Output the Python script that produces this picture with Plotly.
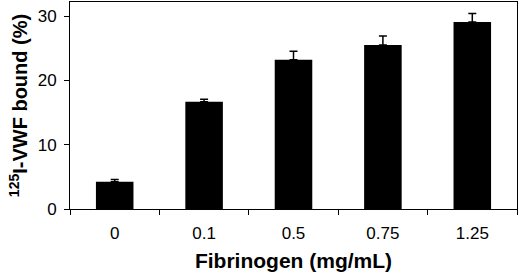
import plotly.graph_objects as go

categories = ["0", "0.1", "0.5", "0.75", "1.25"]
bound_pct = [4.25, 16.7, 23.2, 25.5, 29.1]
error_up = [0.35, 0.37, 1.35, 1.4, 1.3]
y_ticks = [0, 10, 20, 30]

FONT = "Liberation Sans, Arial, sans-serif"

fig = go.Figure(
    go.Bar(
        x=categories,
        y=bound_pct,
        marker=dict(color="black", line=dict(width=0)),
        error_y=dict(type="data", array=error_up, symmetric=False,
                     arrayminus=[0] * len(error_up),
                     color="black", thickness=1.5, width=4),
    )
)

fig.update_layout(
    width=520, height=278,
    margin=dict(l=70, r=3, t=2, b=69),
    paper_bgcolor="white", plot_bgcolor="white",
    bargap=0.58,
    showlegend=False,
    font=dict(family=FONT, color="black"),
)

fig.update_xaxes(
    type="category",
    automargin=True,
    showline=True, linecolor="black", linewidth=1, mirror=True,
    ticks="outside", tickson="boundaries", ticklen=5, tickcolor="black",
    tickfont=dict(size=17, family=FONT, color="black"),
    ticklabelstandoff=9,
    showgrid=False, zeroline=False,
    title=dict(text="<b>Fibrinogen (mg/mL)</b>",
               font=dict(size=21, family=FONT, color="black"),
               standoff=10),
)

fig.update_yaxes(
    range=[0, 32.2],
    automargin=True,
    tickvals=y_ticks,
    showline=True, linecolor="black", linewidth=1, mirror=True,
    ticks="outside", ticklen=5, tickcolor="black",
    tickfont=dict(size=17, family=FONT, color="black"),
    ticklabelstandoff=4,
    showgrid=False, zeroline=False,
    title=dict(text="<b><sup>125</sup>I-VWF bound (%)</b>",
               font=dict(size=20, family=FONT, color="black"),
               standoff=4),
)

fig.write_html("out.html", config={"displayModeBar": False},
               post_script="document.body.style.margin='0';")
